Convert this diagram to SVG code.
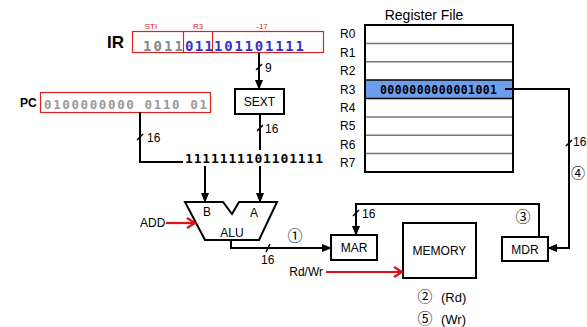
<svg xmlns="http://www.w3.org/2000/svg" width="587" height="327" viewBox="0 0 587 327">
<defs>
<style>
.t{font-family:"Liberation Sans",Arial,"Noto Sans CJK JP",sans-serif;fill:#000}
.m{font-family:"DejaVu Sans Mono","Liberation Mono",monospace;font-weight:bold}
.box{fill:#fff;stroke:#000;stroke-width:2}
.rbox{fill:none;stroke:#d22;stroke-width:1.2}
.w{fill:none;stroke:#000;stroke-width:2}
.red{fill:none;stroke:#d11;stroke-width:2.2}
.tick{stroke:#000;stroke-width:1.5}
.rl{stroke:#777;stroke-width:1.5}
</style>
<marker id="ah" markerWidth="10" markerHeight="8" refX="9" refY="4" orient="auto" markerUnits="userSpaceOnUse">
<path d="M0,0 L10,4 L0,8 z" fill="#000"/>
</marker>
<marker id="rh" markerWidth="12" markerHeight="12" refX="10" refY="6" orient="auto" markerUnits="userSpaceOnUse">
<path d="M2,1 L10,6 L2,11" fill="none" stroke="#d11" stroke-width="2.2"/>
</marker>
</defs>
<rect width="587" height="327" fill="#fff"/>

<g id="ir">
<text class="t" x="107" y="48" font-size="17" font-weight="bold">IR</text>
<rect class="rbox" x="132.5" y="31.5" width="191" height="21"/>
<line x1="183.5" y1="31.5" x2="183.5" y2="52.5" stroke="#d22" stroke-width="1.2"/>
<line x1="212.5" y1="31.5" x2="212.5" y2="52.5" stroke="#d22" stroke-width="1.2"/>
<text class="t" x="151" y="29" font-size="8" style="fill:#d22" text-anchor="middle">STI</text>
<text class="t" x="198" y="29" font-size="8" style="fill:#d22" text-anchor="middle">R3</text>
<text class="t" x="262" y="29" font-size="8" style="fill:#d22" text-anchor="middle">-17</text>
<text class="m" x="143" y="51" font-size="14" fill="#888" textLength="40" lengthAdjust="spacing">1011</text>
<text class="m" x="185" y="51" font-size="14" fill="#3333cc" textLength="28" lengthAdjust="spacing">011</text>
<text class="m" x="214" y="51" font-size="14" fill="#3333cc" textLength="90" lengthAdjust="spacing">101101111</text>
</g>

<g id="pc">
<text class="t" x="20" y="107" font-size="12" font-weight="bold">PC</text>
<rect class="rbox" x="40.5" y="92.5" width="170" height="20"/>
<text class="m" x="44" y="108.5" font-size="12.5" fill="#999" textLength="163" lengthAdjust="spacing">0100000000 0110 01</text>
</g>

<g id="sext">
<rect class="box" x="235" y="89" width="49" height="25"/>
<text class="t" x="259.5" y="106" font-size="12" text-anchor="middle">SEXT</text>
</g>

<g id="regfile">
<text class="t" x="424" y="20" font-size="14" text-anchor="middle">Register File</text>
<rect x="365" y="80.1" width="148" height="18.4" fill="#6d9eeb"/>
<line class="rl" x1="365" y1="43.4" x2="513" y2="43.4"/>
<line class="rl" x1="365" y1="61.75" x2="513" y2="61.75"/>
<line x1="365" y1="80.1" x2="513" y2="80.1" stroke="#000" stroke-width="1.5"/>
<line x1="365" y1="98.5" x2="513" y2="98.5" stroke="#000" stroke-width="1.5"/>
<line class="rl" x1="365" y1="116.9" x2="513" y2="116.9"/>
<line class="rl" x1="365" y1="135.25" x2="513" y2="135.25"/>
<line class="rl" x1="365" y1="153.6" x2="513" y2="153.6"/>
<rect x="365" y="25" width="148" height="147" fill="none" stroke="#000" stroke-width="2"/>
<text class="m" x="380" y="93.5" font-size="11.5" textLength="117" lengthAdjust="spacing">0000000000001001</text>
<g class="t" font-size="12">
<text x="340" y="38">R0</text>
<text x="340" y="57">R1</text>
<text x="340" y="75">R2</text>
<text x="340" y="94">R3</text>
<text x="340" y="112">R4</text>
<text x="340" y="130">R5</text>
<text x="340" y="149">R6</text>
<text x="340" y="167">R7</text>
</g>
</g>

<g id="alu">
<path d="M185,202 H223 L232,214 L239,202 H277 L259,240 H205 Z" fill="#fff" stroke="#000" stroke-width="2"/>
<text class="t" x="207" y="216" font-size="12" text-anchor="middle">B</text>
<text class="t" x="254" y="217" font-size="12" text-anchor="middle">A</text>
<text class="t" x="232" y="237" font-size="12" text-anchor="middle">ALU</text>
</g>

<g id="mar">
<rect class="box" x="331" y="235" width="46" height="25"/>
<text class="t" x="354" y="252" font-size="12" text-anchor="middle">MAR</text>
</g>

<g id="memory">
<rect class="box" x="403" y="223" width="73" height="55"/>
<text class="t" x="439.5" y="255" font-size="12" text-anchor="middle">MEMORY</text>
</g>

<g id="mdr">
<rect class="box" x="502" y="237" width="46" height="24"/>
<text class="t" x="525" y="254" font-size="12" text-anchor="middle">MDR</text>
</g>

<g id="connectors">
<path class="w" d="M259,53 V89" marker-end="url(#ah)"/>
<line class="tick" x1="256" y1="70" x2="262" y2="64"/>
<text class="t" x="265" y="72" font-size="12">9</text>

<path class="w" d="M260,114 V202" marker-end="url(#ah)"/>
<line class="tick" x1="257" y1="131" x2="263" y2="125"/>
<text class="t" x="265" y="133" font-size="12">16</text>

<path class="w" d="M140,112 V162 H205 V202" marker-end="url(#ah)"/>
<line class="tick" x1="137" y1="140" x2="143" y2="134"/>
<text class="t" x="147" y="142" font-size="12">16</text>

<rect x="183" y="150" width="142" height="16" fill="#fff"/>
<text class="m" x="185" y="163" font-size="13" textLength="138" lengthAdjust="spacing">1111111101101111</text>

<path class="w" d="M231,240 V248 H331" marker-end="url(#ah)"/>
<line class="tick" x1="266" y1="252" x2="270" y2="244"/>
<text class="t" x="261" y="264" font-size="12">16</text>
<text class="t" x="295" y="241" font-size="15" text-anchor="middle">①</text>

<path class="w" d="M539,237 V204 H356 V235" marker-end="url(#ah)"/>
<line class="tick" x1="353" y1="216" x2="359" y2="210"/>
<text class="t" x="362" y="218" font-size="12">16</text>
<text class="t" x="523" y="222" font-size="15" text-anchor="middle">③</text>

<path class="w" d="M505,89 H569 V248 H548" marker-end="url(#ah)"/>
<line class="tick" x1="566" y1="146" x2="572" y2="140"/>
<text class="t" x="573" y="146" font-size="12">16</text>
<text class="t" x="578" y="178" font-size="14" text-anchor="middle">④</text>

<path class="red" d="M166,223 H195" marker-end="url(#rh)"/>
<text class="t" x="140" y="227" font-size="12">ADD</text>

<path class="red" d="M326,272 H402" marker-end="url(#rh)"/>
<text class="t" x="323" y="276" font-size="12" text-anchor="end">Rd/Wr</text>

<text class="t" x="425" y="302" font-size="15" text-anchor="middle">②</text>
<text class="t" x="441" y="302" font-size="13">(Rd)</text>
<text class="t" x="425" y="324" font-size="15" text-anchor="middle">⑤</text>
<text class="t" x="441" y="324" font-size="13">(Wr)</text>
</g>
</svg>
